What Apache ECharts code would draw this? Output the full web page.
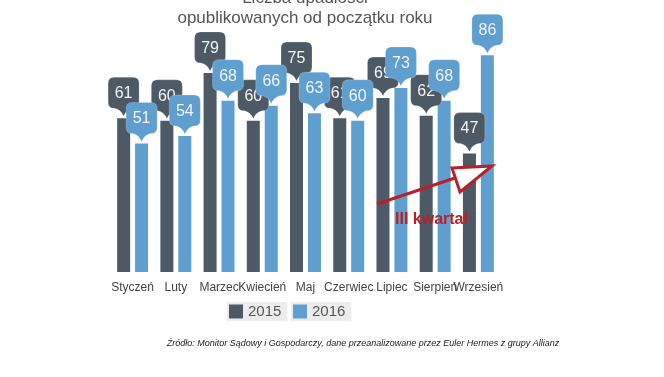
<!DOCTYPE html>
<html>
<head>
<meta charset="utf-8">
<script src="https://cdn.jsdelivr.net/npm/echarts@6/dist/echarts.min.js"></script>
<style>html,body{margin:0;padding:0;background:#fff;}#c{width:664px;height:377px;}</style>
</head>
<body>
<div id="c"></div>
<script>
var months = ['Styczeń','Luty','Marzec','Kwiecień','Maj','Czerwiec','Lipiec','Sierpień','Wrzesień'];
var v2015 = [61, 60, 79, 60, 75, 61, 69, 62, 47];
var v2016 = [51, 54, 68, 66, 63, 60, 73, 68, 86];
var seriesNames = ['2015', '2016'];
var titleText = 'Liczba upadłości\nopublikowanych od początku roku';
var sourceText = 'Źródło: Monitor Sądowy i Gospodarczy, dane przeanalizowane przez Euler Hermes z grupy Allianz';
var noteText = 'III kwartał';

var DARK = '#4d5a66', BLUE = '#5f9fcf';
var BAR_W = 13, OFFSET = 9;

function bubbleRender(offset, color) {
  return function (params, api) {
    var i = api.value(0), v = api.value(1);
    var p = api.coord([i, v]);
    var cx = p[0] + offset, top = p[1];
    var w = 31, h = 31, r = 6, ph = 8, pw = 9, gap = 2;
    var b = top - gap - ph;
    var t = b - h, l = cx - w / 2, rr = cx + w / 2;
    var d = 'M' + (l + r) + ',' + t +
      ' L' + (rr - r) + ',' + t + ' Q' + rr + ',' + t + ' ' + rr + ',' + (t + r) +
      ' L' + rr + ',' + (b - r) + ' Q' + rr + ',' + b + ' ' + (rr - r) + ',' + b +
      ' L' + (cx + pw) + ',' + b + ' Q' + (cx + 3) + ',' + (b + 1) + ' ' + cx + ',' + (b + ph) +
      ' Q' + (cx - 3) + ',' + (b + 1) + ' ' + (cx - pw) + ',' + b +
      ' L' + (l + r) + ',' + b + ' Q' + l + ',' + b + ' ' + l + ',' + (b - r) +
      ' L' + l + ',' + (t + r) + ' Q' + l + ',' + t + ' ' + (l + r) + ',' + t + ' Z';
    return {
      type: 'group',
      children: [
        { type: 'path', shape: { pathData: d }, style: { fill: color, stroke: 'rgba(255,255,255,0.35)', lineWidth: 0.6 } },
        { type: 'text', style: { text: String(v), x: cx, y: t + h / 2 + 1, textAlign: 'center', textVerticalAlign: 'middle',
          fill: '#f2f2f2', font: '16px "Liberation Sans", Arial, sans-serif' } }
      ]
    };
  };
}

function pairs(arr) { return arr.map(function (v, i) { return [i, v]; }); }

var chart = echarts.init(document.getElementById('c'), null, { renderer: 'canvas' });
var legendCommon = {
  top: 302, orient: 'horizontal', icon: 'rect', itemWidth: 14, itemHeight: 14, itemGap: 5,
  backgroundColor: '#ececec', padding: [2, 6, 2, 2], borderRadius: 0,
  textStyle: { fontSize: 15, color: '#555', fontFamily: '"Liberation Sans", Arial, sans-serif', padding: [0, 0, 0, 0] }
};
chart.setOption({
  animation: false,
  backgroundColor: '#ffffff',
  grid: { left: 111, right: 164, top: 20, bottom: 105 },
  xAxis: {
    type: 'category', data: months,
    axisLine: { show: false }, axisTick: { show: false },
    axisLabel: { interval: 0, margin: 10, fontSize: 12, color: '#444', fontFamily: '"Liberation Sans", Arial, sans-serif' }
  },
  yAxis: { type: 'value', min: 0, max: 100, show: false, splitLine: { show: false } },
  legend: [
    Object.assign({}, legendCommon, { left: 227, data: [seriesNames[0]] }),
    Object.assign({}, legendCommon, { left: 291, data: [seriesNames[1]] })
  ],
  series: [
    { name: seriesNames[0], type: 'bar', data: v2015, barWidth: BAR_W, barGap: '38%', itemStyle: { color: DARK }, z: 2 },
    { name: seriesNames[1], type: 'bar', data: v2016, barWidth: BAR_W, barGap: '38%', itemStyle: { color: BLUE }, z: 2 },
    { name: 'b2015', type: 'custom', data: pairs(v2015), renderItem: bubbleRender(-OFFSET, DARK), z: 5, clip: false, encode: { x: 0, y: 1 } },
    { name: 'b2016', type: 'custom', data: pairs(v2016), renderItem: bubbleRender(OFFSET, BLUE), z: 6, clip: false, encode: { x: 0, y: 1 } }
  ],
  graphic: [
    { type: 'text', z: 10, position: [305, -12],
      style: { text: titleText, textAlign: 'center', lineHeight: 20, fill: '#555',
        font: '17px "Liberation Sans", Arial, sans-serif' } },
    { type: 'text', z: 10, position: [363, 343],
      style: { text: sourceText, textAlign: 'center', textVerticalAlign: 'middle', fill: '#222',
        font: 'italic 9px "Liberation Sans", Arial, sans-serif' } },
    { type: 'line', z: 20, shape: { x1: 377, y1: 204, x2: 458, y2: 177 }, style: { stroke: '#b8202a', lineWidth: 3 } },
    { type: 'polygon', z: 20, shape: { points: [[452, 168], [492, 166], [460, 192]] },
      style: { fill: '#ffffff', stroke: '#b8202a', lineWidth: 3, lineJoin: 'miter' } },
    { type: 'text', z: 20, position: [395, 220],
      style: { text: noteText, textVerticalAlign: 'middle', fill: '#b8202a',
        font: 'bold 16px "Liberation Sans", Arial, sans-serif' } }
  ]
});
</script>
</body>
</html>
